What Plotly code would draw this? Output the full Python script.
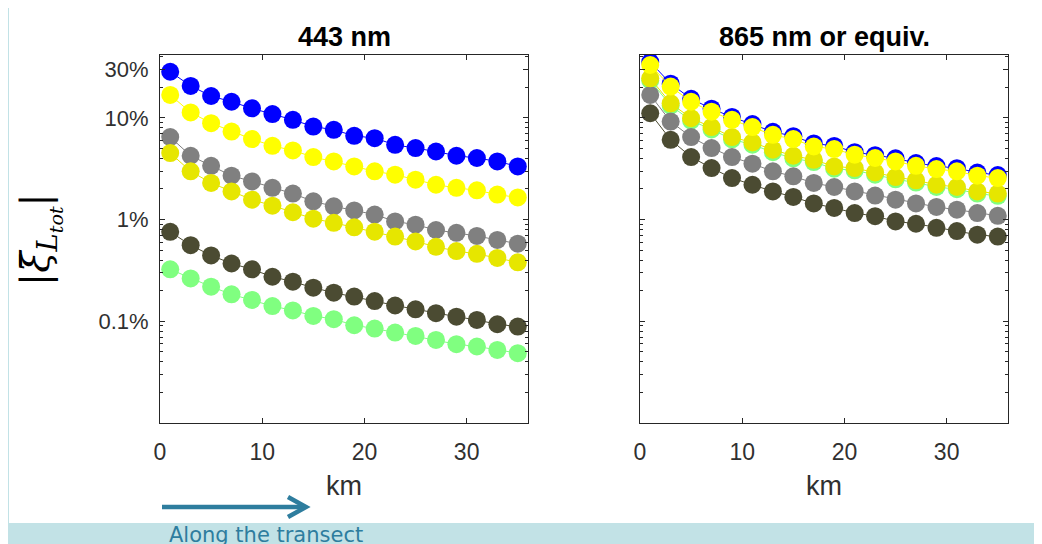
import plotly.graph_objects as go
from plotly.subplots import make_subplots

# ---------------- data ----------------
km = [1, 3, 5, 7, 9, 11, 13, 15, 17, 19, 21, 23, 25, 27, 29, 31, 33, 35]

# 443 nm panel (values in %)
blue_443 = [28.4, 20.6, 16.4, 14.4, 12.4, 10.9, 9.56, 8.22, 7.63, 6.66, 6.32, 5.43, 5.05, 4.67, 4.24, 4.03, 3.73, 3.33]
yellow_443 = [16.8, 11.3, 8.87, 7.34, 6.18, 5.31, 4.78, 4.12, 3.73, 3.33, 2.98, 2.76, 2.47, 2.20, 2.05, 1.94, 1.76, 1.65]
gray_443 = [6.47, 4.24, 3.38, 2.70, 2.37, 2.05, 1.80, 1.51, 1.35, 1.23, 1.12, 0.96, 0.89, 0.79, 0.74, 0.69, 0.63, 0.58]
dkyellow_443 = [4.51, 2.98, 2.29, 1.89, 1.57, 1.37, 1.18, 1.02, 0.93, 0.84, 0.76, 0.68, 0.61, 0.54, 0.49, 0.46, 0.42, 0.38]
olive_443 = [0.757, 0.56, 0.444, 0.37, 0.324, 0.274, 0.245, 0.214, 0.191, 0.175, 0.158, 0.143, 0.131, 0.120, 0.111, 0.103, 0.0935, 0.0887]
green_443 = [0.324, 0.264, 0.219, 0.184, 0.162, 0.141, 0.128, 0.113, 0.105, 0.0914, 0.0848, 0.0775, 0.0718, 0.0656, 0.0595, 0.0565, 0.0523, 0.0486]

# 865 nm or equiv. panel (values in %)
blue_865 = [35.4, 21.7, 15.4, 12.3, 10.2, 8.7, 7.3, 6.6, 5.6, 5.3, 4.6, 4.3, 4.0, 3.6, 3.36, 3.2, 2.9, 2.74]
yellow_865 = [33.1, 20.3, 14.4, 11.5, 9.56, 8.11, 6.81, 6.18, 5.23, 4.93, 4.34, 4.03, 3.73, 3.38, 3.14, 2.98, 2.70, 2.56]
dkyellow_865 = [24.5, 13.9, 9.93, 8.11, 6.47, 5.73, 4.86, 4.24, 3.87, 3.33, 3.21, 2.91, 2.62, 2.43, 2.20, 2.09, 1.89, 1.80]
green_865 = [23.3, 13.2, 9.4, 7.7, 6.15, 5.45, 4.6, 4.0, 3.68, 3.16, 3.05, 2.76, 2.49, 2.31, 2.09, 1.99, 1.8, 1.71]
gray_865 = [16.8, 9.2, 6.47, 5.05, 4.12, 3.54, 2.98, 2.66, 2.29, 2.09, 1.89, 1.72, 1.57, 1.44, 1.33, 1.25, 1.16, 1.09]
olive_865 = [11.1, 6.09, 4.12, 3.21, 2.56, 2.20, 1.89, 1.67, 1.44, 1.30, 1.16, 1.08, 0.96, 0.91, 0.83, 0.77, 0.71, 0.68]

panel_titles = ["443 nm", "865 nm or equiv."]
x_ticks = [0, 10, 20, 30]
y_ticks = [0.1, 1, 10, 30]
y_ticktext = ["0.1%", "1%", "10%", "30%"]
y_minor = [0.02, 0.03, 0.04, 0.05, 0.06, 0.07, 0.08, 0.09,
           0.2, 0.3, 0.4, 0.5, 0.6, 0.7, 0.8, 0.9,
           2, 3, 4, 5, 6, 7, 8, 9,
           20, 30, 40]

C_BLUE = "#0000ff"
C_YEL = "#ffff00"
C_DKYEL = "#e6e600"
C_GRAY = "#808080"
C_OLIVE = "#4b4b32"
C_GREEN = "#80ff80"
TEAL = "#2e7d9e"

# ---------------- layout geometry (page pixels, body offset 8) ----------------
W, H = 1042, 544
OFF = 8
ML = 160 - OFF
MT = 55 - OFF
MR = W - (1008 - OFF)
MB = H - (423 - OFF)
PW = W - ML - MR
PH = H - MT - MB


def px(x):
    return (x - OFF - ML) / PW


def py(y):
    return (H - MB - (y - OFF)) / PH


fig = make_subplots(rows=1, cols=2, horizontal_spacing=0.1)
fig.update_xaxes(domain=[0, px(528)], row=1, col=1)
fig.update_xaxes(domain=[px(640), 1], row=1, col=2)

series_443 = [
    (blue_443, C_BLUE), (yellow_443, C_YEL), (green_443, C_GREEN),
    (olive_443, C_OLIVE), (gray_443, C_GRAY), (dkyellow_443, C_DKYEL),
]
series_865 = [
    (blue_865, C_BLUE), (green_865, C_GREEN), (gray_865, C_GRAY),
    (olive_865, C_OLIVE), (dkyellow_865, C_DKYEL), (yellow_865, C_YEL),
]

for col, series in ((1, series_443), (2, series_865)):
    for vals, c in series:
        fig.add_trace(go.Scatter(
            x=km, y=vals, mode="lines+markers",
            line=dict(color=c, width=1),
            marker=dict(color=c, size=18, line=dict(width=0)),
            showlegend=False, hoverinfo="skip"), row=1, col=col)

axis_col = "#262626"
tick_font = dict(family="Liberation Sans, Arial, Helvetica", size=22, color="#303030")

fig.update_xaxes(range=[0, 36], tickvals=x_ticks, ticks="inside", ticklen=5,
                 tickcolor=axis_col, showline=True, linecolor=axis_col, linewidth=1,
                 mirror="allticks", showgrid=False, zeroline=False,
                 tickfont=dict(tick_font, size=23), ticklabelstandoff=8,
                 title=dict(text="km", font=dict(tick_font, size=27), standoff=12))

ylog = dict(type="log", range=[-2, 1.618], tickvals=y_ticks, ticktext=y_ticktext,
            ticks="inside", ticklen=5, tickcolor=axis_col, showline=True,
            linecolor=axis_col, linewidth=1, mirror="allticks", showgrid=False,
            zeroline=False, tickfont=tick_font, ticklabelstandoff=6,
            minor=dict(tickmode="array", tickvals=y_minor, ticks="inside", ticklen=3,
                       tickcolor=axis_col, showgrid=False))
fig.update_yaxes(**ylog)
fig.update_yaxes(showticklabels=False, row=1, col=2)

annotations = []
for title, (a, b) in zip(panel_titles, ((160, 528), (640, 1008))):
    annotations.append(dict(
        text="<b>" + title + "</b>", x=px((a + b) / 2), y=py(37), xref="paper", yref="paper",
        showarrow=False, xanchor="center", yanchor="middle",
        font=dict(family="Liberation Sans, Arial", size=27, color="#000000")))

annotations.append(dict(
    text="|<i>ξ̄</i><sub><i>L</i><sub><i>tot</i></sub></sub>|",
    x=px(40), y=py(240), xref="paper", yref="paper", textangle=-90,
    showarrow=False, xanchor="center", yanchor="middle",
    font=dict(family="DejaVu Serif, Liberation Serif", size=39, color="#000000")))

annotations.append(dict(
    text="Along the transect", x=px(167), y=py(541), xref="paper", yref="paper",
    showarrow=False, xanchor="left", yanchor="bottom", yshift=-8,
    font=dict(family="DejaVu Sans, Verdana", size=21, color=TEAL)))

shapes = [
    dict(type="rect", xref="paper", yref="paper", x0=px(9), x1=px(1060), y0=py(523), y1=py(7),
         fillcolor="#ffffff", line=dict(width=0), layer="below"),
    dict(type="line", xref="paper", yref="paper", x0=px(162), x1=px(305), y0=py(507), y1=py(507),
         line=dict(color=TEAL, width=4.5)),
    dict(type="path", xref="paper", yref="paper",
         path="M {:.5f},{:.5f} L {:.5f},{:.5f} L {:.5f},{:.5f}".format(
             px(288), py(497), px(306), py(507), px(288), py(517)),
         line=dict(color=TEAL, width=4.5)),
]

fig.update_layout(
    width=W, height=H, margin=dict(l=ML, r=MR, t=MT, b=MB),
    paper_bgcolor="#c2e2e6", plot_bgcolor="#ffffff",
    annotations=annotations, shapes=shapes, showlegend=False)

fig.write_html("out.html")
